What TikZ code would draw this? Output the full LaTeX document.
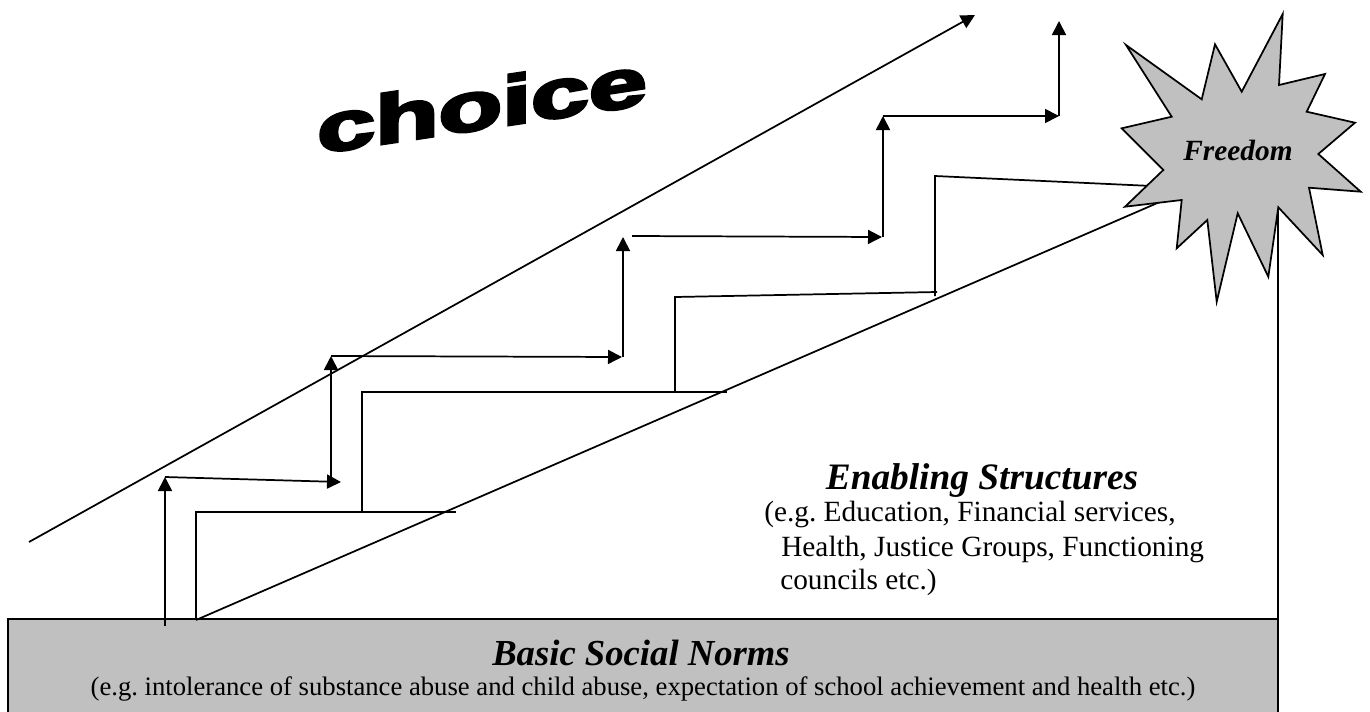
\documentclass[tikz,border=0pt]{standalone}
\usepackage{fontspec}
\setmainfont{Liberation Serif}
\newfontfamily\choicefont[FakeBold=4]{Liberation Sans Bold}
\usetikzlibrary{arrows.meta}
\definecolor{boxgray}{RGB}{192,192,192}
\begin{document}
\begin{tikzpicture}[x=0.75pt,y=-0.75pt,
  ln/.style={line width=1.3pt},
  arr/.style={line width=1.3pt,-{Triangle[length=10.5pt,width=10.5pt]}},
  panel/.style={draw,fill=boxgray,line width=1.5pt},
  burst/.style={draw,fill=boxgray,line width=1.3pt,line join=miter},
  headtxt/.style={inner sep=0pt,anchor=base,font=\fontsize{27.5}{32}\selectfont\bfseries\itshape},
  bodytxt/.style={inner sep=0pt,anchor=base,font=\fontsize{20}{24}\selectfont},
  subtxt/.style={inner sep=0pt,font=\fontsize{22}{26}\selectfont,anchor=base west},
]
\useasboundingbox (0,0) rectangle (1370,711);

% base panel
\coordinate (boxNW) at (8,619);
\coordinate (boxSE) at (1278,720);
\path[panel] (boxNW) rectangle (boxSE);
\node[headtxt] (bsnhead) at (641,665) {Basic Social Norms};
\node[bodytxt] (bsnbody) at (643,695) {(e.g.\ intolerance of substance abuse and child abuse, expectation of school achievement and health etc.)};

% long diagonal arrow
\coordinate (d1s) at (29,542);
\coordinate (d1e) at (975,15);
\draw[arr] (d1s) -- (d1e);

% stepped arrows
\coordinate (p0) at (165,626);
\coordinate (p1) at (165,477);
\coordinate (p2) at (341,482);
\coordinate (p3) at (331,482);
\coordinate (p4) at (331,356);
\coordinate (p5) at (622,357);
\coordinate (p6) at (623,357);
\coordinate (p7) at (623,237);
\coordinate (p8) at (632,236);
\coordinate (p9) at (882,237);
\coordinate (p10) at (883,237);
\coordinate (p11) at (883,116);
\coordinate (p12) at (1059,116);
\coordinate (p13) at (1059,21);
\draw[arr] (p0) -- (p1);
\draw[arr] (p1) -- (p2);
\draw[arr] (p3) -- (p4);
\draw[arr] (p4) -- (p5);
\draw[arr] (p6) -- (p7);
\draw[arr] (p8) -- (p9);
\draw[arr] (p10) -- (p11);
\draw[arr] (p11) -- (p12);
\draw[arr] (p12) -- (p13);

% stairs
\coordinate (s0) at (196,620);
\coordinate (s1) at (196,512);
\coordinate (s2) at (456,512);
\coordinate (s3) at (362,512);
\coordinate (s4) at (362,392);
\coordinate (s5) at (727,392);
\coordinate (s6) at (675,392);
\coordinate (s7) at (675,297);
\coordinate (s8) at (937,292);
\coordinate (s9) at (935,296);
\coordinate (s10) at (935,176);
\coordinate (s11) at (1152,186);
\coordinate (dtop) at (1162,201);
\draw[ln] (s0) -- (s1) -- (s2);
\draw[ln] (s3) -- (s4) -- (s5);
\draw[ln] (s6) -- (s7) -- (s8);
\draw[ln] (s9) -- (s10) -- (s11);
\draw[ln] (s0) -- (dtop);

% right vertical
\coordinate (rv1) at (1278,200);
\coordinate (rv2) at (1278,619);
\draw[ln] (rv1) -- (rv2);

% star
\path[burst] (1282.7,14) -- (1279,85) -- (1325,74) -- (1306.7,111.7) -- (1355,122.7)
  -- (1318.3,154) -- (1360.7,191.7) -- (1309,187.7) -- (1322.7,255) -- (1278.3,207.3)
  -- (1268.3,276.7) -- (1237.7,213.3) -- (1216.7,301.7) -- (1207.3,220) -- (1176.7,248.3)
  -- (1181.7,200) -- (1125,206.7) -- (1163.3,170) -- (1121.7,128.3) -- (1171.7,116.7)
  -- (1126,45) -- (1201.7,99.3) -- (1215,44.3) -- (1241.7,91.7) -- cycle;
\node[inner sep=0pt,anchor=base,font=\fontsize{22}{26}\selectfont\bfseries\itshape] (freedom) at (1238,160) {Freedom};

% enabling structures
\node[inner sep=0pt,anchor=base,font=\fontsize{28}{32}\selectfont\bfseries\itshape] (enab) at (982,489) {Enabling Structures};
\node[subtxt] (sub1) at (764,521) {(e.g.\ Education, Financial services,};
\node[subtxt] (sub2) at (781,556) {Health, Justice Groups, Functioning};
\node[subtxt] (sub3) at (780,589) {councils etc.)};

% choice
\node[inner sep=0pt,anchor=base,yslant=0.15,xscale=1.5,transform shape,
  font=\choicefont\fontsize{52}{60}\selectfont] (choice) at (482,129) {choice};
\end{tikzpicture}
\end{document}
